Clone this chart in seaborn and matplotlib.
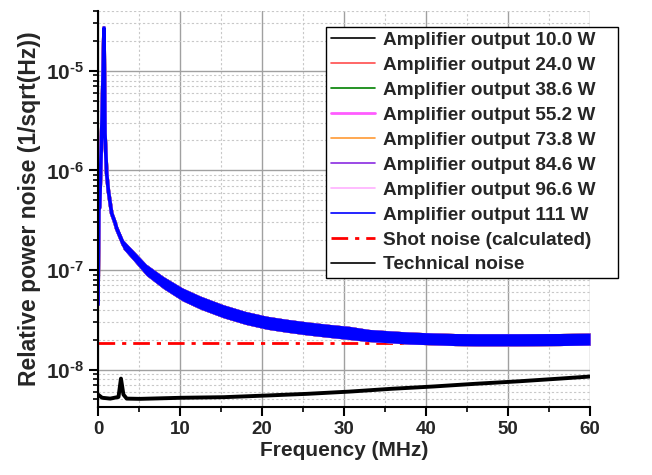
import numpy as np
import pandas as pd
import matplotlib
matplotlib.use("Agg")
import matplotlib.pyplot as plt
import seaborn as sns
from matplotlib.ticker import LogLocator, MultipleLocator, FixedLocator, NullFormatter

# ---------------- data ----------------
powers = ["10.0", "24.0", "38.6", "55.2", "73.8", "84.6", "96.6", "111"]
amp_colors = ["#000000", "#ff4d4d", "#008000", "#ff5cff", "#ff9933",
              "#8a2be2", "#ffb0ff", "#0000ff"]

# centre of the amplifier noise trace (all power levels overlap)
freq_amp = [0.0, 0.1, 0.2, 0.35, 0.5, 0.6, 0.73, 0.85, 1.06, 1.26, 1.67,
            2.07, 2.28, 3.09, 4.3, 5.9, 7.97, 10.3, 12.5, 15.3, 18.0, 20.6,
            23.0, 25.6, 28.0, 30.7, 33.0, 35.8, 38.0, 40.9, 43.5, 46.2,
            51.2, 56.3, 60.0]
rin_amp = [4.5e-8, 4.0e-7, 4.3e-7, 1.2e-6, 3.5e-6, 8.0e-6, 2.7e-5, 2.35e-6,
           9.3e-7, 6.3e-7, 3.7e-7, 3.0e-7, 2.6e-7, 1.8e-7, 1.4e-7, 1.0e-7,
           7.5e-8, 5.7e-8, 4.7e-8, 3.85e-8, 3.3e-8, 2.95e-8, 2.75e-8,
           2.58e-8, 2.45e-8, 2.33e-8, 2.2e-8, 2.12e-8, 2.07e-8, 2.03e-8,
           2.0e-8, 1.99e-8, 1.99e-8, 2.0e-8, 2.02e-8]

# upper / lower edge of the noisy band of the amplifier traces
freq_band = [1.06, 1.26, 1.67, 2.07, 2.28, 3.09, 4.3, 5.9, 7.97, 10.3, 12.5,
             15.3, 18.0, 20.6, 23.0, 25.6, 28.0, 30.7, 33.0, 35.8, 38.0,
             40.9, 43.5, 46.2, 51.2, 56.3, 60.0]
rin_band_hi = [9.74e-7, 6.6e-7, 3.97e-7, 3.29e-7, 2.85e-7, 2.0e-7, 1.57e-7,
               1.14e-7, 8.6e-8, 6.6e-8, 5.46e-8, 4.47e-8, 3.83e-8, 3.43e-8,
               3.2e-8, 3.0e-8, 2.85e-8, 2.71e-8, 2.53e-8, 2.44e-8, 2.38e-8,
               2.33e-8, 2.3e-8, 2.29e-8, 2.29e-8, 2.3e-8, 2.32e-8]
rin_band_lo = [8.88e-7, 6.02e-7, 3.45e-7, 2.73e-7, 2.37e-7, 1.62e-7, 1.25e-7,
               8.8e-8, 6.5e-8, 4.9e-8, 4.04e-8, 3.31e-8, 2.84e-8, 2.54e-8,
               2.37e-8, 2.22e-8, 2.11e-8, 2.0e-8, 1.91e-8, 1.85e-8, 1.8e-8,
               1.77e-8, 1.74e-8, 1.73e-8, 1.73e-8, 1.74e-8, 1.76e-8]

freq_shot = [0.0, 60.0]
rin_shot = [1.83e-8, 1.83e-8]

freq_tech = [0.0, 0.5, 1.5, 2.5, 2.8, 3.1, 3.5, 5.1, 10.2, 15.3, 20.6, 25.6,
             30.7, 35.8, 40.9, 46.2, 51.2, 56.3, 60.0]
rin_tech = [5.6e-9, 5.2e-9, 5.1e-9, 5.3e-9, 8.1e-9, 5.6e-9, 5.1e-9, 5.07e-9,
            5.2e-9, 5.27e-9, 5.48e-9, 5.7e-9, 6.0e-9, 6.4e-9, 6.75e-9, 7.2e-9,
            7.6e-9, 8.1e-9, 8.5e-9]

x_ticks = [0, 10, 20, 30, 40, 50, 60]
y_ticks = [1e-8, 1e-7, 1e-6, 1e-5]
y_ticklabels = [r"$\mathbf{10}^{\text{-}\mathbf{8}}$",
                r"$\mathbf{10}^{\text{-}\mathbf{7}}$",
                r"$\mathbf{10}^{\text{-}\mathbf{6}}$",
                r"$\mathbf{10}^{\text{-}\mathbf{5}}$"]

# ---------------- style ----------------
sns.set_theme(style="white")
plt.rcParams["font.family"] = ["Liberation Sans", "DejaVu Sans"]
plt.rcParams["font.weight"] = "bold"
plt.rcParams["mathtext.fontset"] = "custom"
plt.rcParams["mathtext.rm"] = "Liberation Sans:bold"
plt.rcParams["mathtext.bf"] = "Liberation Sans:bold"
plt.rcParams["mathtext.it"] = "Liberation Sans:bold"

fig = plt.figure(figsize=(6.52, 4.75), dpi=100)
ax = fig.add_axes([98 / 652, 1 - 407 / 475, (590 - 98) / 652, (407 - 11) / 475])

sns.lineplot(x=freq_shot, y=rin_shot, ax=ax, color="#ff0000", lw=2.0,
             linestyle=(0, (6, 2.5, 1.5, 2.5)), label="Shot noise (calculated)",
             zorder=2)

for i, (p, c) in enumerate(zip(powers, amp_colors)):
    df = pd.DataFrame({"f": freq_amp, "rin": rin_amp})
    sns.lineplot(data=df, x="f", y="rin", ax=ax, color=c, lw=2.6,
                 label=f"Amplifier output {p} W", sort=False, zorder=3 + i)
    ax.fill_between(freq_band, rin_band_lo, rin_band_hi, color=c, lw=0,
                    zorder=3 + i)

sns.lineplot(x=freq_tech, y=rin_tech, ax=ax, color="#000000", lw=2.8,
             label="Technical noise", sort=False, zorder=12)

ax.set_yscale("log")
ax.set_xlim(0, 60)
ax.set_ylim(4.2e-9, 4.0e-5)

ax.xaxis.set_major_locator(FixedLocator(x_ticks))
ax.xaxis.set_minor_locator(MultipleLocator(5))
ax.set_xticklabels([str(t) for t in x_ticks], fontsize=13.5, fontweight="bold")
ax.yaxis.set_major_locator(FixedLocator(y_ticks))
ax.set_yticklabels(y_ticklabels, fontsize=15)
ax.yaxis.set_minor_locator(LogLocator(base=10, subs=np.arange(2, 10)))
ax.yaxis.set_minor_formatter(NullFormatter())

ax.grid(which="major", color="#a0a0a0", lw=1.0, ls="-")
ax.grid(which="minor", color="#c8c8c8", lw=0.8, ls=(0, (2, 2)))
ax.set_axisbelow(True)

for s in ["top", "right"]:
    ax.spines[s].set_visible(False)
for s in ["left", "bottom"]:
    ax.spines[s].set_color("black")
    ax.spines[s].set_linewidth(1.5)
    ax.spines[s].set_zorder(20)
ax.tick_params(which="major", direction="out", length=6.5, width=1.5,
               color="black", left=True, bottom=True, pad=3.5)
ax.tick_params(which="minor", direction="out", length=3.6, width=1.2,
               color="black", left=True, bottom=True)

ax.set_xlabel("Frequency (MHz)", fontsize=15, fontweight="bold", labelpad=2)
ax.set_ylabel("Relative power noise (1/sqrt(Hz))", fontsize=16.5,
              fontweight="bold", labelpad=4)

# legend in the reference order
handles, labels = ax.get_legend_handles_labels()
order = [labels.index(f"Amplifier output {p} W") for p in powers]
order += [labels.index("Shot noise (calculated)"), labels.index("Technical noise")]
leg = ax.legend([handles[k] for k in order], [labels[k] for k in order],
                loc="upper left",
                bbox_to_anchor=(326 / 652, 1 - 278 / 475, 292 / 652, 251 / 475),
                bbox_transform=fig.transFigure, mode="expand", frameon=True,
                fancybox=False, framealpha=1, edgecolor="black", fontsize=13.7,
                handlelength=2.3, borderpad=0.25, labelspacing=0.4,
                handletextpad=0.45, borderaxespad=0)
leg.set_zorder(30)
leg.get_frame().set_linewidth(1.0)
for t in leg.get_texts():
    t.set_fontweight("bold")
for h in leg.get_lines():
    h.set_linewidth(1.2)
leg.get_lines()[8].set_linewidth(2.0)
leg.get_lines()[3].set_linewidth(2.0)

fig.savefig("out.png", dpi=100)
